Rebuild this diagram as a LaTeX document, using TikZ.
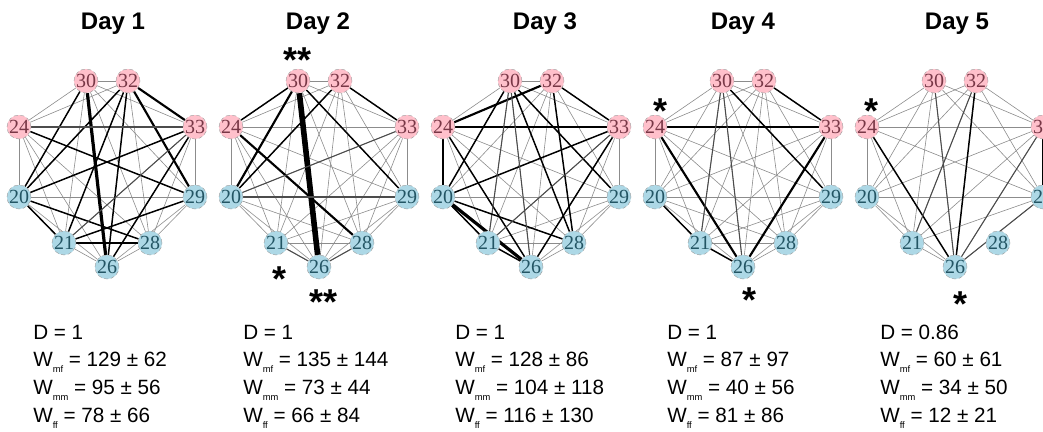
\documentclass[tikz,border=0pt]{standalone}
\usepackage{fontspec}
\setmainfont{Liberation Sans}
\newfontfamily\labelfont{Liberation Serif}
\usetikzlibrary{backgrounds}
\definecolor{femfill}{RGB}{255,192,203}
\definecolor{malfill}{RGB}{173,216,230}
\definecolor{femtext}{RGB}{120,55,70}
\definecolor{maltext}{RGB}{35,85,100}
\newcommand{\sub}[1]{\raisebox{-5pt}{\fontsize{7}{7}\selectfont #1}}
% every pair of the nine birds
\def\allpairs{30/32,30/33,30/29,30/28,30/26,30/21,30/20,30/24,
  32/33,32/29,32/28,32/26,32/21,32/20,32/24,
  33/29,33/28,33/26,33/21,33/20,33/24,
  29/28,29/26,29/21,29/20,29/24,
  28/26,28/21,28/20,28/24,
  26/21,26/20,26/24,
  21/20,21/24,
  20/24}
% day 5: no 30-32, nothing to 28
\def\lastpairs{30/33,30/29,30/26,30/21,30/20,30/24,
  32/33,32/29,32/26,32/21,32/20,32/24,
  33/29,33/26,33/21,33/20,33/24,
  29/26,29/21,29/20,29/24,
  26/21,26/20,26/24,
  21/20,21/24,
  20/24}

\begin{document}
\begin{tikzpicture}
  [x=0.75pt,y=-0.75pt,
   bird/.style={draw=gray!80,densely dashed,line width=0.3pt,circle,inner sep=0pt,
     minimum size=18pt,font=\labelfont\fontsize{15}{15}\selectfont},
   fem/.style={bird,fill=femfill,text=femtext},
   mal/.style={bird,fill=malfill,text=maltext},
   lo/.style={draw=black!45,line width=0.45pt},
   w2/.style={draw=black!70,line width=0.8pt},
   w3/.style={draw=black,line width=1.1pt},
   w4/.style={draw=black,line width=1.6pt},
   w5/.style={draw=black,line width=2.4pt},
   w6/.style={draw=black,line width=4.2pt},
   day/.style={font=\bfseries\fontsize{18}{18}\selectfont,anchor=base},
   stat/.style={font=\fontsize{15.5}{15.5}\selectfont,anchor=base west,inner sep=0pt},
   star/.style={font=\bfseries\fontsize{27}{27}\selectfont,inner sep=0pt}]
  \useasboundingbox (0,0) rectangle (1043,432);

  % one ring of birds per day
  \foreach \p/\cx in {1/107,2/319,3/531,4/743,5/955}{
    \node[fem] (d\p-30) at (\cx-21,81)  {30};
    \node[fem] (d\p-32) at (\cx+21,81)  {32};
    \node[fem] (d\p-24) at (\cx-88,127) {24};
    \node[fem] (d\p-33) at (\cx+88,127) {33};
    \node[mal] (d\p-20) at (\cx-88,197) {20};
    \node[mal] (d\p-29) at (\cx+88,197) {29};
    \node[mal] (d\p-21) at (\cx-43,243) {21};
    \node[mal] (d\p-28) at (\cx+43,243) {28};
    \node[mal] (d\p-26) at (\cx,267)    {26};
  }

  \node[day] (t1) at (113,29) {Day 1};
  \node[day] (t2) at (318,29) {Day 2};
  \node[day] (t3) at (545,29) {Day 3};
  \node[day] (t4) at (743,29) {Day 4};
  \node[day] (t5) at (957,29) {Day 5};

  \begin{pgfonlayer}{background}
    % weak links
    \foreach \p in {1,...,4}
      \foreach \from/\to in \allpairs
        \draw[lo] (d\p-\from) -- (d\p-\to);
    \foreach \from/\to in \lastpairs
      \draw[lo] (d5-\from) -- (d5-\to);

    % strong links
    \foreach \from/\to/\w in {30/26/5,32/33/4,32/29/4,32/20/3,32/26/3,30/20/3,24/29/3,24/33/2,
        33/20/3,33/26/3,20/28/3,21/28/3,21/29/3,20/21/3,32/21/3,33/21/2}
      \draw[w\w] (d1-\from) -- (d1-\to);
    \foreach \from/\to/\w in {30/26/6,30/20/4,30/24/3,32/20/3,32/33/3,24/28/4,30/29/3,33/20/2,
        20/29/2,21/26/2,26/28/2}
      \draw[w\w] (d2-\from) -- (d2-\to);
    \foreach \from/\to/\w in {24/32/4,24/33/4,24/20/4,20/26/5,20/21/3,21/26/3,32/33/3,30/20/3,
        30/28/3,30/29/3,32/28/3,33/26/3,33/20/3,24/26/3,30/21/2,20/28/3,33/21/2,30/26/2}
      \draw[w\w] (d3-\from) -- (d3-\to);
    \foreach \from/\to/\w in {24/33/4,24/26/4,33/26/4,30/29/3,32/33/3,20/21/3,21/26/3,30/26/2,30/21/2}
      \draw[w\w] (d4-\from) -- (d4-\to);
    \foreach \from/\to/\w in {24/26/3,32/26/3,32/21/2,33/26/2,33/29/3,26/29/2,30/26/2}
      \draw[w\w] (d5-\from) -- (d5-\to);
  \end{pgfonlayer}

  % significance marks
  \node[star] (a2a) at (298,60)  {**};
  \node[star] (a2b) at (280,279) {*};
  \node[star] (a2c) at (324,302) {**};
  \node[star] (a4a) at (660,111) {*};
  \node[star] (a4b) at (749,300) {*};
  \node[star] (a5a) at (871,111) {*};
  \node[star] (a5b) at (960,304) {*};

  % density and mean weights
  \node[stat] (s1d) at (33,339) {D = 1};
  \node[stat] (s1a) at (33,366) {W\sub{mf} = 129 ± 62};
  \node[stat] (s1b) at (33,394) {W\sub{mm} = 95 ± 56};
  \node[stat] (s1c) at (33,422) {W\sub{ff} = 78 ± 66};

  \node[stat] (s2d) at (243,339) {D = 1};
  \node[stat] (s2a) at (243,366) {W\sub{mf} = 135 ± 144};
  \node[stat] (s2b) at (243,394) {W\sub{mm} = 73 ± 44};
  \node[stat] (s2c) at (243,422) {W\sub{ff} = 66 ± 84};

  \node[stat] (s3d) at (455,339) {D = 1};
  \node[stat] (s3a) at (455,366) {W\sub{mf} = 128 ± 86};
  \node[stat] (s3b) at (455,394) {W\sub{mm} = 104 ± 118};
  \node[stat] (s3c) at (455,422) {W\sub{ff} = 116 ± 130};

  \node[stat] (s4d) at (667,339) {D = 1};
  \node[stat] (s4a) at (667,366) {W\sub{mf} = 87 ± 97};
  \node[stat] (s4b) at (667,394) {W\sub{mm} = 40 ± 56};
  \node[stat] (s4c) at (667,422) {W\sub{ff} = 81 ± 86};

  \node[stat] (s5d) at (880,339) {D = 0.86};
  \node[stat] (s5a) at (880,366) {W\sub{mf} = 60 ± 61};
  \node[stat] (s5b) at (880,394) {W\sub{mm} = 34 ± 50};
  \node[stat] (s5c) at (880,422) {W\sub{ff} = 12 ± 21};
\end{tikzpicture}
\end{document}
